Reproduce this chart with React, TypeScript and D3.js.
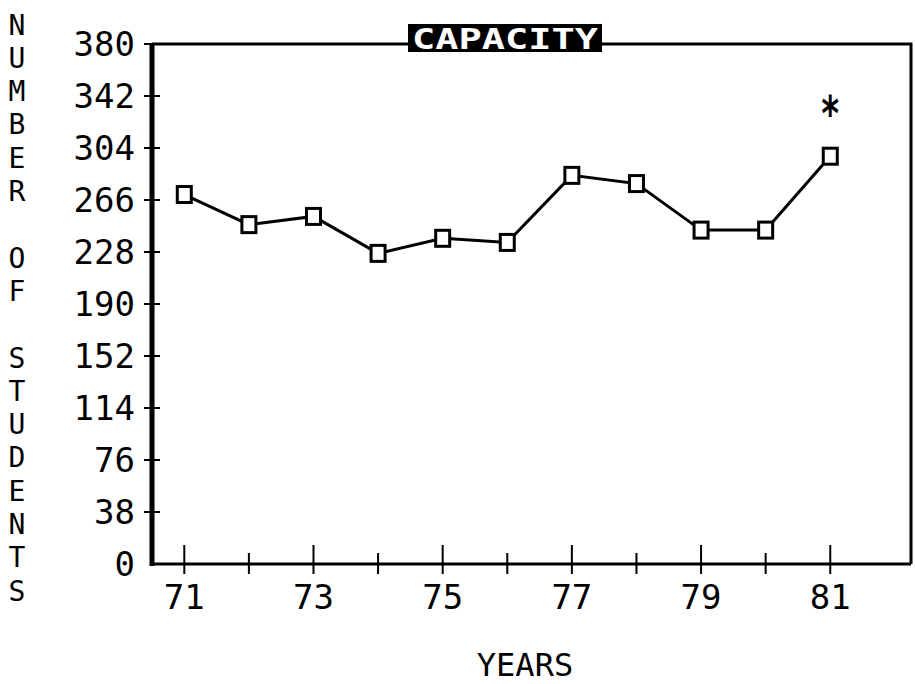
import React from 'react';
import * as d3 from 'd3';

const years = [71, 72, 73, 74, 75, 76, 77, 78, 79, 80, 81];
const students = [270, 248, 254, 227, 238, 235, 284, 278, 244, 244, 298];
const yTicks = [0, 38, 76, 114, 152, 190, 228, 266, 304, 342, 380];
const xLabels = [71, 73, 75, 77, 79, 81];
const title = 'CAPACITY';
const yTitle = 'NUMBER OF STUDENTS';
const xTitle = 'YEARS';
const noteYear = 81;

const W = 915;
const H = 684;
const left = 152;
const right = 911;
const top = 44;
const bottom = 564;
const font = '"DejaVu Sans Mono", monospace';

const App = () => {
  const x = d3.scaleLinear().domain([70.5, 82.25]).range([left, right]);
  const y = d3.scaleLinear().domain([0, 380]).range([bottom, top]);

  const line = d3
    .line<number>()
    .x((d, i) => x(years[i]))
    .y((d) => y(d));

  const noteIdx = years.indexOf(noteYear);
  const noteY = y(students[noteIdx]) - 42;

  return (
    <svg
      width={W}
      height={H}
      style={{ position: 'absolute', left: 0, top: 0, background: '#fff' }}
    >
      {/* frame */}
      <path
        d={`M${left},${top}H${right}V${bottom}`}
        fill="none"
        stroke="#000"
        strokeWidth={3}
      />
      <line x1={left} x2={left} y1={top} y2={bottom + 2} stroke="#000" strokeWidth={5} />
      <line x1={left - 2} x2={right} y1={bottom} y2={bottom} stroke="#000" strokeWidth={3} />

      {/* y ticks */}
      {yTicks.map((t) => (
        <g key={t}>
          {t > 0 && (
            <line x1={left - 8} x2={left + 8} y1={y(t)} y2={y(t)} stroke="#000" strokeWidth={2} />
          )}
          <text
            x={135}
            y={y(t)}
            textAnchor="end"
            dominantBaseline="central"
            fontFamily={font}
            fontSize={34}
            fill="#000"
          >
            {t}
          </text>
        </g>
      ))}

      {/* x ticks */}
      {years.map((yr) => (
        <line
          key={yr}
          x1={x(yr)}
          x2={x(yr)}
          y1={xLabels.includes(yr) ? bottom - 19 : bottom - 11}
          y2={bottom + 10}
          stroke="#000"
          strokeWidth={2}
        />
      ))}
      {xLabels.map((yr) => (
        <text
          key={yr}
          x={x(yr)}
          y={609}
          textAnchor="middle"
          fontFamily={font}
          fontSize={34}
          fill="#000"
        >
          {yr}
        </text>
      ))}

      {/* series */}
      <path d={line(students) || ''} fill="none" stroke="#000" strokeWidth={3} />
      {students.map((v, i) => (
        <rect
          key={i}
          x={x(years[i]) - 7}
          y={y(v) - 8}
          width={14}
          height={16}
          fill="#fff"
          stroke="#000"
          strokeWidth={3}
        />
      ))}

      {/* note mark */}
      <text
        transform={`translate(${x(noteYear)}, ${noteY}) scale(1, 1.4)`}
        textAnchor="middle"
        dominantBaseline="central"
        fontFamily={font}
        fontSize={34}
        fontWeight="bold"
        fill="#000"
      >
        *
      </text>

      {/* title */}
      <rect x={408} y={24} width={194} height={28} fill="#000" />
      <text
        x={505}
        y={39}
        textAnchor="middle"
        dominantBaseline="central"
        fontFamily={font}
        fontSize={28}
        fontWeight="bold"
        fill="#fff"
        textLength={186}
        lengthAdjust="spacingAndGlyphs"
      >
        {title}
      </text>

      {/* y title, stacked letters */}
      {yTitle.split('').map((c, i) => (
        <text
          key={i}
          x={17}
          y={25 + i * 33.3}
          textAnchor="middle"
          dominantBaseline="central"
          fontFamily={font}
          fontSize={28}
          fill="#000"
        >
          {c}
        </text>
      ))}

      {/* x title */}
      <text
        x={525}
        y={676}
        textAnchor="middle"
        fontFamily={font}
        fontSize={32}
        fill="#000"
      >
        {xTitle}
      </text>
    </svg>
  );
};

export default App;
